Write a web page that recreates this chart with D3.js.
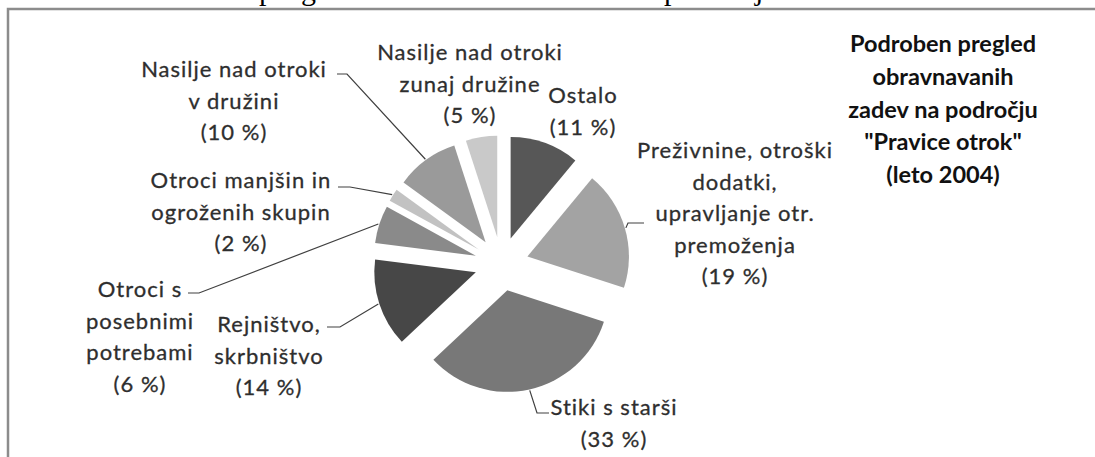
<!DOCTYPE html>
<meta charset="utf-8">
<html>
<head>
    <title>Pravice otrok 2004</title>
    <script src="https://cdn.jsdelivr.net/npm/d3@7"></script>
    <style>
        body { margin: 0; background: #fff; }
        .lbl { font-family: Lato, "Open Sans", sans-serif; font-size: 22px; letter-spacing: 1px;
               fill: #2e2e2e; stroke: #2e2e2e; stroke-width: 0.3px; }
        .title { font-family: Lato, "Open Sans", sans-serif; font-size: 23.5px; font-weight: bold; fill: #111; }
        .leader { fill: none; stroke: #404040; stroke-width: 1.2; }
    </style>
</head>
<body>
<script>

    // slice data, clockwise from 12 o'clock
    var categories = ["Ostalo", "Preživnine", "Stiki s starši", "Rejništvo", "Otroci s posebnimi potrebami",
        "Otroci manjšin", "Nasilje v družini", "Nasilje zunaj družine"];
    var shares = [11, 19, 33, 14, 6, 2, 10, 5];
    var sliceColors = ["#575757", "#a3a3a3", "#787878", "#474747", "#8a8a8a", "#c2c2c2", "#9a9a9a", "#c9c9c9"];

    // label text, one list of lines per slice
    var labelLines = [
        ["Ostalo", "(11 %)"],
        ["Preživnine, otroški", "dodatki,", "upravljanje otr.", "premoženja", "(19 %)"],
        ["Stiki s starši", "(33 %)"],
        ["Rejništvo,", "skrbništvo", "(14 %)"],
        ["Otroci s", "posebnimi", "potrebami", "(6 %)"],
        ["Otroci manjšin in", "ogroženih skupin", "(2 %)"],
        ["Nasilje nad otroki", "v družini", "(10 %)"],
        ["Nasilje nad otroki", "zunaj družine", "(5 %)"]
    ];
    var titleLines = ["Podroben pregled", "obravnavanih", "zadev na področju", "\"Pravice otrok\"", "(leto 2004)"];

    var width = 1095, height = 457;
    var cx = 501.5, cy = 264, radius = 101.5, explode = 27;
    var lineH = 31.5;

    // label block placement: centre x, first baseline
    var labelPos = [
        [583, 103], [735, 158], [614, 415], [269, 332],
        [140, 297], [241, 188], [234, 77], [470, 60]
    ];
    // leader lines: elbow and end next to label (null = no leader)
    var leaderPos = [
        null,
        [[628, 223], [644, 223]],
        [[537, 413], [549, 413]],
        [[340, 327], [327, 327]],
        [[199, 293], [188, 293]],
        [[350, 187], [338, 187]],
        [[347, 74], [337, 74]],
        null
    ];

    var svg = d3.select("body").append("svg")
        .attr("width", width)
        .attr("height", height);

    // frame of the chart area
    svg.append("path")
        .attr("d", "M8," + height + "V9H" + width)
        .attr("fill", "none")
        .attr("stroke", "#8c8c8c")
        .attr("stroke-width", 2.5);

    // cut-off caption line above the chart
    var caption = svg.append("g")
        .attr("font-family", "'Liberation Serif', serif")
        .attr("font-size", 30)
        .attr("fill", "#000");
    [["p", 259], ["g", 301], ["p", 664], ["j", 755]].forEach(function (c) {
        caption.append("text").attr("x", c[1]).attr("y", 0).text(c[0]);
    });

    var pie = d3.pie().sort(null).value(function (d) { return d; });
    var arcs = pie(shares);
    var arc = d3.arc().innerRadius(0).outerRadius(radius);

    function offsetOf(a) {
        var mid = (a.startAngle + a.endAngle) / 2;
        return [Math.sin(mid) * explode, -Math.cos(mid) * explode];
    }

    var pieG = svg.append("g")
        .attr("transform", "translate(" + cx + "," + cy + ")");

    pieG.selectAll("path.slice")
        .data(arcs)
        .enter()
        .append("path")
        .attr("class", "slice")
        .attr("d", arc)
        .attr("fill", function (d, i) { return sliceColors[i]; })
        .attr("transform", function (d) {
            var o = offsetOf(d);
            return "translate(" + o[0] + "," + o[1] + ")";
        });

    // leader lines from slice edge to labels
    var line = d3.line();
    arcs.forEach(function (a, i) {
        if (!leaderPos[i]) return;
        var mid = (a.startAngle + a.endAngle) / 2;
        var o = offsetOf(a);
        var p0 = [cx + o[0] + Math.sin(mid) * (radius + 1), cy + o[1] - Math.cos(mid) * (radius + 1)];
        svg.append("path")
            .attr("class", "leader")
            .attr("d", line([p0, leaderPos[i][0], leaderPos[i][1]]));
    });

    // labels
    labelLines.forEach(function (lines, i) {
        var t = svg.append("text")
            .attr("class", "lbl")
            .attr("text-anchor", "middle");
        lines.forEach(function (s, j) {
            t.append("tspan")
                .attr("x", labelPos[i][0])
                .attr("y", labelPos[i][1] + j * lineH)
                .text(s);
        });
    });

    // title
    var title = svg.append("text")
        .attr("class", "title")
        .attr("text-anchor", "middle");
    titleLines.forEach(function (s, j) {
        title.append("tspan")
            .attr("x", 943)
            .attr("y", 52 + j * 32.75)
            .text(s);
    });

</script>
</body>
</html>
